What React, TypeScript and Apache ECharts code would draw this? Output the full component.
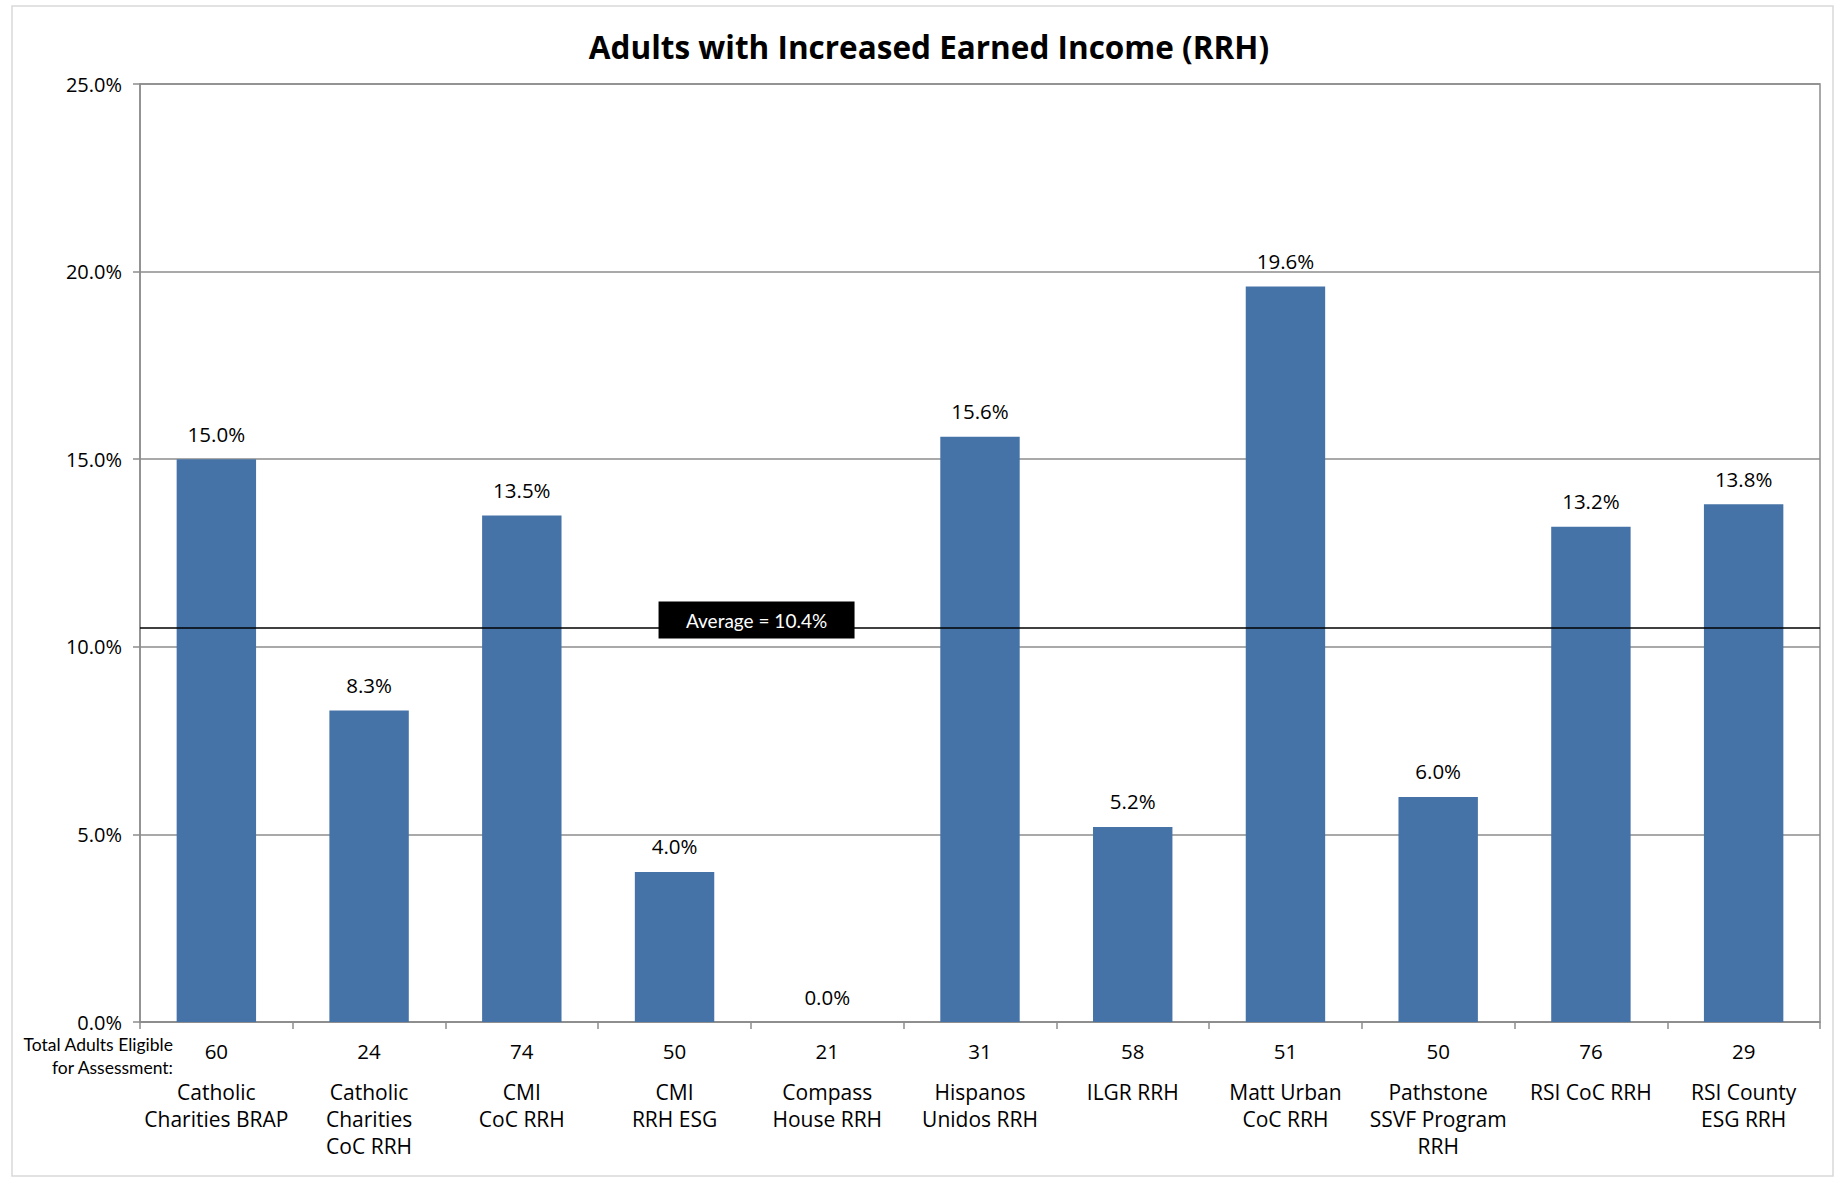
import React, { useEffect, useRef } from "react";
import * as echarts from "echarts";

const categories = [
  "Catholic\nCharities BRAP",
  "Catholic\nCharities\nCoC RRH",
  "CMI\nCoC RRH",
  "CMI\nRRH ESG",
  "Compass\nHouse RRH",
  "Hispanos\nUnidos RRH",
  "ILGR RRH",
  "Matt Urban\nCoC RRH",
  "Pathstone\nSSVF Program\nRRH",
  "RSI CoC RRH",
  "RSI County\nESG RRH",
];
const totalAdults = [60, 24, 74, 50, 21, 31, 58, 51, 50, 76, 29];
const percentValues = [15.0, 8.3, 13.5, 4.0, 0.0, 15.6, 5.2, 19.6, 6.0, 13.2, 13.8];
const averageLineValue = 10.5;
const averageLabel = "Average = 10.4%";
const yTicks = { min: 0, max: 25, interval: 5 };
const titleText = "Adults with Increased Earned Income (RRH)";
const rowHeader = "Total Adults Eligible\nfor Assessment:";

const MAIN_FONT = "'Open Sans', 'DejaVu Sans', sans-serif";
const CAL_FONT = "Lato, 'Open Sans', sans-serif";
const GRAY = "#8c8c8c";

export default function App() {
  const ref = useRef<HTMLDivElement>(null);
  useEffect(() => {
    document.body.style.margin = "0";
    const chart = echarts.init(ref.current!, null, { renderer: "svg" });
    chart.setOption({
      animation: false,
      backgroundColor: "#ffffff",
      title: {
        text: titleText,
        left: 924,
        textAlign: "center",
        top: 25,
        textStyle: { fontFamily: MAIN_FONT, fontWeight: "bold", fontSize: 31.5, color: "#000" },
      },
      graphic: [
        {
          type: "rect",
          shape: { x: 12, y: 6, width: 1821, height: 1170 },
          style: { fill: "none", stroke: "#d9d9d9", lineWidth: 1.5 },
          silent: true,
        },
        {
          type: "text",
          x: 173,
          y: 1033,
          style: {
            text: rowHeader,
            fontFamily: CAL_FONT,
            fontSize: 17.5,
            lineHeight: 23,
            fill: "#000",
            align: "right",
          },
        },
      ],
      grid: {
        left: 140,
        right: 25,
        top: 84,
        bottom: 158,
        show: true,
        borderColor: GRAY,
        borderWidth: 1.5,
      },
      xAxis: {
        type: "category",
        data: categories,
        axisLine: { lineStyle: { color: GRAY, width: 1.5 } },
        axisTick: { show: true, length: 7, lineStyle: { color: GRAY, width: 1.5 } },
        axisLabel: {
          interval: 0,
          margin: 1,
          formatter: (v: string, i: number) => {
            const lines = v.split("\n").map((l) => `{c|${l}}`).join("\n");
            return `{n|${totalAdults[i]}}\n${lines}`;
          },
          rich: {
            n: { fontFamily: MAIN_FONT, fontSize: 20.5, lineHeight: 55, color: "#000" },
            c: { fontFamily: MAIN_FONT, fontSize: 21, lineHeight: 27, color: "#000" },
          },
        },
      },
      yAxis: {
        type: "value",
        min: yTicks.min,
        max: yTicks.max,
        interval: yTicks.interval,
        axisLine: { show: true, lineStyle: { color: GRAY, width: 1.5 } },
        axisTick: { show: true, length: 7, lineStyle: { color: GRAY, width: 1.5 } },
        splitLine: { lineStyle: { color: GRAY, width: 1.5 } },
        axisLabel: {
          margin: 18,
          fontFamily: MAIN_FONT,
          fontSize: 20,
          color: "#000",
          formatter: (v: number) => v.toFixed(1) + "%",
        },
      },
      series: [
        {
          type: "bar",
          data: percentValues,
          barCategoryGap: "48%",
          itemStyle: { color: "#4673A7" },
          label: {
            show: true,
            position: "top",
            distance: 15,
            fontFamily: MAIN_FONT,
            fontSize: 20.5,
            color: "#000",
            formatter: (p: any) => p.value.toFixed(1) + "%",
          },
          markLine: {
            silent: true,
            symbol: "none",
            label: { show: false },
            lineStyle: { color: "#000", width: 1.5, type: "solid" },
            data: [{ yAxis: averageLineValue }],
          },
          markPoint: {
            silent: true,
            data: [
              {
                coord: [categories[3], averageLineValue],
                symbol: "rect",
                symbolSize: [196, 37],
                symbolOffset: [82, -8],
                itemStyle: { color: "#000" },
                label: {
                  show: true,
                  formatter: averageLabel,
                  color: "#fff",
                  fontFamily: CAL_FONT,
                  fontSize: 19,
                },
              },
            ],
          },
        },
      ],
    });
    return () => chart.dispose();
  }, []);
  return <div ref={ref} style={{ width: 1845, height: 1180 }} />;
}
